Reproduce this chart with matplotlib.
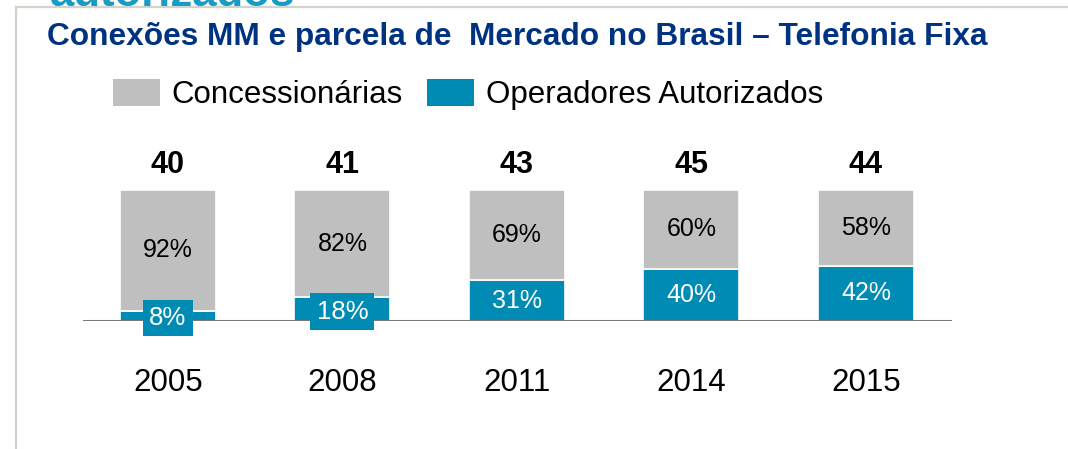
import matplotlib.pyplot as plt
from matplotlib.patches import Patch
from matplotlib.lines import Line2D

plt.rcParams['font.family'] = ['Liberation Sans', 'DejaVu Sans']

years = ['2005', '2008', '2011', '2014', '2015']
totals = [40, 41, 43, 45, 44]          # conexoes (MM)
autorizados = [8, 18, 31, 40, 42]      # % operadores autorizados
concessionarias = [92, 82, 69, 60, 58] # % concessionarias

grey = '#BFBFBF'
blue = '#008BB5'
navy = '#003282'

W, H = 1068, 449
fig = plt.figure(figsize=(W / 100, H / 100), dpi=100)

# frame lines of the slide
fig.add_artist(Line2D([16 / W, 16 / W], [0, 1 - 7 / H], color='#D3D3CB', lw=1.6))
fig.add_artist(Line2D([16 / W, 1], [1 - 7 / H, 1 - 7 / H], color='#D3D3CB', lw=1.6))

# cut off heading from the slide above
fig.text(50 / W, 1 - 6 / H, 'autorizados', color='#1A9BC4', fontsize=31.5,
         fontweight='bold', va='baseline', ha='left')

fig.text(47 / W, 1 - 45 / H, 'Conexões MM e parcela de  Mercado no Brasil – Telefonia Fixa',
         color=navy, fontsize=22.8, fontweight='bold', va='baseline', ha='left')

ax = fig.add_axes([83 / W, 128 / H, 869 / W, 131 / H])
x = list(range(len(years)))
ax.bar(x, autorizados, width=0.55, color=blue, edgecolor='white', linewidth=1.2, zorder=2)
ax.bar(x, concessionarias, width=0.55, bottom=autorizados, color=grey,
       edgecolor='white', linewidth=1.2, zorder=2)
ax.axhline(0, color='#7A7A7A', lw=2.2, zorder=3)
ax.set_xlim(-0.487, 4.493)
ax.set_ylim(0, 100)
ax.axis('off')

for i in x:
    a = autorizados[i]
    c = concessionarias[i]
    ax.text(i, a + c / 2, f'{c}%', ha='center', va='center', fontsize=18, color='black', zorder=4)
    if a < 25:
        ax.text(i, a / 2 - 1.8, f'{a}%', ha='center', va='center', fontsize=18.5, color='white',
                zorder=4, bbox=dict(facecolor=blue, edgecolor='none', pad=4.5))
    else:
        ax.text(i, a / 2, f'{a}%', ha='center', va='center', fontsize=18, color='white', zorder=4)
    ax.annotate(str(totals[i]), (i, 100), xytext=(0, 18), textcoords='offset points',
                ha='center', va='center', fontsize=22, fontweight='bold', annotation_clip=False)
    ax.text(i, -47.5, years[i], ha='center', va='center', fontsize=22.5, clip_on=False)

handles = [Patch(facecolor=grey, edgecolor='none'), Patch(facecolor=blue, edgecolor='none')]
fig.legend(handles, ['Concessionárias', 'Operadores Autorizados'], ncol=2, frameon=False,
           loc='upper left', bbox_to_anchor=(113 / W, 1 - 79 / H), borderaxespad=0,
           borderpad=0, fontsize=22.5, handlelength=1.5, handleheight=0.95,
           handletextpad=0.38, columnspacing=0.77)

fig.savefig('out.png', dpi=100)
